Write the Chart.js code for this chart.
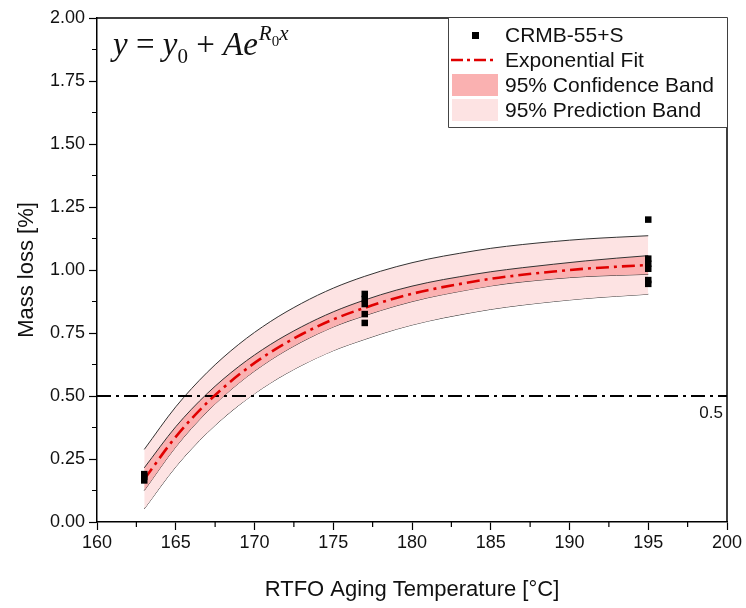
<!DOCTYPE html>
<html>
<head>
<meta charset="utf-8">
<script src="https://cdn.jsdelivr.net/npm/chart.js@4.4.1/dist/chart.umd.min.js"></script>
<style>
  body { margin: 0; background: #fff; }
  canvas { display: block; }
</style>
</head>
<body>
<canvas id="massLoss" width="746" height="608"></canvas>
<script>
// values
const temps      = [163, 165, 167, 169, 171, 173, 175, 177, 179, 181, 183, 185, 187, 189, 191, 193, 195];
const fitLine    = [0.170, 0.338, 0.474, 0.584, 0.673, 0.745, 0.804, 0.850, 0.889, 0.920, 0.944, 0.965, 0.981, 0.994, 1.005, 1.013, 1.020];
const confUpper  = [0.215, 0.378, 0.510, 0.617, 0.704, 0.775, 0.834, 0.881, 0.920, 0.950, 0.973, 0.993, 1.009, 1.023, 1.036, 1.047, 1.057];
const confLower  = [0.125, 0.298, 0.438, 0.551, 0.642, 0.715, 0.774, 0.819, 0.858, 0.890, 0.915, 0.937, 0.953, 0.965, 0.974, 0.979, 0.983];
const predUpper  = [0.288, 0.457, 0.594, 0.705, 0.795, 0.868, 0.928, 0.975, 1.013, 1.043, 1.066, 1.086, 1.101, 1.113, 1.123, 1.130, 1.136];
const predLower  = [0.052, 0.219, 0.354, 0.463, 0.551, 0.622, 0.680, 0.725, 0.765, 0.797, 0.822, 0.844, 0.861, 0.875, 0.887, 0.896, 0.904];

const sampleTemps = [163, 163, 163, 177, 177, 177, 177, 177, 195, 195, 195, 195, 195, 195];
const sampleMass  = [0.165, 0.180, 0.190, 0.790, 0.825, 0.865, 0.885, 0.905, 0.945, 0.960, 1.005, 1.025, 1.045, 1.200];

const thresholdX = [160, 200];
const thresholdY = [0.5, 0.5];

const xTicks = [160, 165, 170, 175, 180, 185, 190, 195, 200];
const yTicks = [0, 0.25, 0.5, 0.75, 1, 1.25, 1.5, 1.75, 2];

const CONF_COLOR = '#fab1b1';
const PRED_COLOR = '#fde3e3';
const FIT_COLOR = '#e00000';
const FONT = '"Liberation Sans", Arial, sans-serif';

function pts(xs, ys) {
    return xs.map((x, i) => ({ x: x, y: ys[i] }));
}

// legend, formula, frame, minor ticks and the 0.5 label
const extras = {
    id: 'extras',
    afterDraw(chart) {
        const c = chart.ctx;
        const a = chart.chartArea;
        const xs = chart.scales.x, ys = chart.scales.y;
        c.save();

        // frame top + right
        c.strokeStyle = '#000';
        c.lineWidth = 1.5;
        c.beginPath();
        c.moveTo(a.left, a.top);
        c.lineTo(a.right, a.top);
        c.lineTo(a.right, a.bottom);
        c.stroke();

        // minor ticks
        c.lineWidth = 1.2;
        c.beginPath();
        for (let v = 162.5; v < 200; v += 5) {
            const px = xs.getPixelForValue(v);
            c.moveTo(px, a.bottom);
            c.lineTo(px, a.bottom + 5);
        }
        for (let v = 0.125; v < 2; v += 0.25) {
            const py = ys.getPixelForValue(v);
            c.moveTo(a.left, py);
            c.lineTo(a.left - 5, py);
        }
        c.stroke();

        // 0.5 label
        c.fillStyle = '#111';
        c.font = '17px ' + FONT;
        c.textAlign = 'right';
        c.textBaseline = 'middle';
        c.fillText('0.5', a.right - 4, ys.getPixelForValue(0.5) + 17);

        // formula
        c.textAlign = 'left';
        c.textBaseline = 'alphabetic';
        let x = a.left + 16, base = a.top + 37;
        const serif = '"Liberation Serif", "Times New Roman", serif';
        const put = (txt, font, dy) => {
            c.font = font;
            c.fillText(txt, x, base + (dy || 0));
            x += c.measureText(txt).width;
        };
        put('y', 'italic 33px ' + serif);
        put(' = ', '33px ' + serif);
        put('y', 'italic 33px ' + serif);
        put('0', '21px ' + serif, 8);
        put(' + ', '33px ' + serif);
        put('Ae', 'italic 33px ' + serif);
        x += 1;
        put('R', 'italic 21px ' + serif, -15);
        put('0', '15px ' + serif, -9);
        put('x', 'italic 21px ' + serif, -15);

        // legend box
        const lx = 448, ly = a.top, lw = a.right - lx, lh = 109;
        c.fillStyle = '#fff';
        c.fillRect(lx, ly, lw, lh);
        c.strokeStyle = '#444';
        c.lineWidth = 1;
        c.beginPath();
        c.moveTo(lx + 0.5, ly);
        c.lineTo(lx + 0.5, ly + lh + 0.5);
        c.lineTo(a.right, ly + lh + 0.5);
        c.stroke();

        const ds = chart.data.datasets;
        const rowY = [ly + 17, ly + 42, ly + 67, ly + 92];
        const textX = 505;

        // square marker
        c.fillStyle = '#000';
        c.fillRect(472, rowY[0] - 3, 7, 7);
        // dash-dot fit
        c.strokeStyle = FIT_COLOR;
        c.lineWidth = 2.5;
        c.setLineDash([12, 4, 3, 4]);
        c.beginPath();
        c.moveTo(451, rowY[1]);
        c.lineTo(497, rowY[1]);
        c.stroke();
        c.setLineDash([]);
        // band patches
        c.fillStyle = CONF_COLOR;
        c.fillRect(452, rowY[2] - 11, 46, 22);
        c.fillStyle = PRED_COLOR;
        c.fillRect(452, rowY[3] - 11, 46, 22);

        c.fillStyle = '#111';
        c.font = '21px ' + FONT;
        c.textBaseline = 'middle';
        c.fillText(ds[0].label, textX, rowY[0] + 1);
        c.fillText(ds[1].label, textX, rowY[1] + 1);
        c.fillText(ds[3].label, textX, rowY[2] + 1);
        c.fillText(ds[5].label, textX, rowY[3] + 1);

        c.restore();
    }
};

const ctx = document.getElementById('massLoss');
new Chart(ctx, {
    type: 'scatter',
    data: {
        datasets: [
            {
                label: 'CRMB-55+S',
                data: pts(sampleTemps, sampleMass),
                pointStyle: 'rect',
                pointRadius: 4.6,
                backgroundColor: '#000',
                borderColor: '#000',
                borderWidth: 0,
                order: 0
            },
            {
                label: 'Exponential Fit',
                data: pts(temps, fitLine),
                showLine: true,
                pointRadius: 0,
                borderColor: FIT_COLOR,
                borderWidth: 2.6,
                borderDash: [13, 5, 3, 5],
                cubicInterpolationMode: 'monotone',
                order: 1
            },
            {
                label: 'threshold',
                data: pts(thresholdX, thresholdY),
                showLine: true,
                pointRadius: 0,
                borderColor: '#000',
                borderWidth: 2,
                borderDash: [14, 5, 3, 5],
                order: 2
            },
            {
                label: '95% Confidence Band',
                data: pts(temps, confUpper),
                showLine: true,
                pointRadius: 0,
                borderColor: '#333',
                borderWidth: 1,
                backgroundColor: CONF_COLOR,
                fill: '+1',
                cubicInterpolationMode: 'monotone',
                order: 3
            },
            {
                label: 'conf lower',
                data: pts(temps, confLower),
                showLine: true,
                pointRadius: 0,
                borderColor: '#333',
                borderWidth: 1,
                cubicInterpolationMode: 'monotone',
                order: 3
            },
            {
                label: '95% Prediction Band',
                data: pts(temps, predUpper),
                showLine: true,
                pointRadius: 0,
                borderColor: '#333',
                borderWidth: 1,
                backgroundColor: PRED_COLOR,
                fill: '+1',
                cubicInterpolationMode: 'monotone',
                order: 5
            },
            {
                label: 'pred lower',
                data: pts(temps, predLower),
                showLine: true,
                pointRadius: 0,
                borderColor: '#333',
                borderWidth: 1,
                cubicInterpolationMode: 'monotone',
                order: 5
            }
        ]
    },
    options: {
        responsive: false,
        animation: false,
        layout: { padding: { top: 18, right: 19, left: 0, bottom: 0 } },
        plugins: {
            legend: { display: false },
            tooltip: { enabled: false }
        },
        scales: {
            x: {
                type: 'linear',
                min: 160,
                max: 200,
                afterFit(scale) { scale.height = 86; },
                afterBuildTicks(scale) { scale.ticks = xTicks.map(v => ({ value: v })); },
                border: { display: true, color: '#000', width: 1.5 },
                grid: { drawOnChartArea: false, tickLength: 8, tickColor: '#000', tickWidth: 1.2 },
                ticks: {
                    color: '#111',
                    font: { family: FONT, size: 18 },
                    padding: 2,
                    autoSkip: false,
                    maxRotation: 0,
                    callback: v => String(v)
                },
                title: {
                    display: true,
                    text: 'RTFO Aging Temperature [°C]',
                    color: '#111',
                    font: { family: FONT, size: 22 },
                    padding: { top: 0, bottom: 5 }
                }
            },
            y: {
                min: 0,
                max: 2,
                afterFit(scale) { scale.width = 97; },
                afterBuildTicks(scale) { scale.ticks = yTicks.map(v => ({ value: v })); },
                border: { display: true, color: '#000', width: 1.5 },
                grid: { drawOnChartArea: false, tickLength: 8, tickColor: '#000', tickWidth: 1.2 },
                ticks: {
                    color: '#111',
                    font: { family: FONT, size: 18 },
                    padding: 4,
                    autoSkip: false,
                    callback: v => v.toFixed(2)
                },
                title: {
                    display: true,
                    text: 'Mass loss [%]',
                    color: '#111',
                    font: { family: FONT, size: 22 },
                    padding: { top: 14, bottom: 0 }
                }
            }
        }
    },
    plugins: [extras]
});
</script>
</body>
</html>
